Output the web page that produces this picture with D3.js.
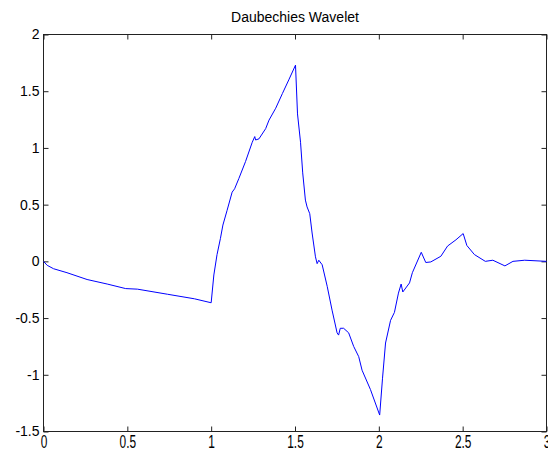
<!DOCTYPE html>
<html>
<head>
<meta charset="utf-8">
<script src="https://cdn.jsdelivr.net/npm/d3@7"></script>
<style>
  html, body { margin: 0; padding: 0; background: #fff; }
  svg { display: block; }
  .axis text { font-family: "Liberation Sans", Arial, sans-serif; font-size: 14px; fill: #000; }
  .axis path, .axis line { stroke: #222; }
</style>
</head>
<body>
<svg id="chart" width="548" height="452"></svg>
<script>
// --- Données ---
const title = "Daubechies Wavelet";
const xTicks = [0, 0.5, 1, 1.5, 2, 2.5, 3];
const yTicks = [-1.5, -1, -0.5, 0, 0.5, 1, 1.5, 2];
const xTickLabels = ["0", "0.5", "1", "1.5", "2", "2.5", "3"];
const yTickLabels = ["-1.5", "-1", "-0.5", "0", "0.5", "1", "1.5", "2"];

const psiX = [0, 0.022, 0.06, 0.14, 0.26, 0.38, 0.49, 0.56, 0.74, 0.90, 1.0,
    1.016, 1.035, 1.055, 1.07, 1.095, 1.125, 1.14, 1.165, 1.205, 1.245, 1.26, 1.265,
    1.285, 1.325, 1.345, 1.385, 1.425, 1.463, 1.503,
    1.515, 1.533, 1.546, 1.562, 1.572, 1.588, 1.602, 1.622, 1.632, 1.642, 1.662,
    1.692, 1.721, 1.751, 1.76, 1.77, 1.79, 1.82, 1.85, 1.88, 1.90, 1.95, 2.005,
    2.022, 2.04, 2.07, 2.093, 2.117, 2.133, 2.143, 2.183, 2.20, 2.253, 2.28, 2.31,
    2.37, 2.41, 2.46, 2.503, 2.525, 2.57, 2.635, 2.68, 2.752, 2.80, 2.87, 3.0];
const psiY = [0, -0.035, -0.065, -0.10, -0.16, -0.20, -0.24, -0.245, -0.29, -0.33, -0.365,
    -0.12, 0.06, 0.20, 0.32, 0.45, 0.61, 0.64, 0.73, 0.88, 1.05, 1.10, 1.07,
    1.08, 1.17, 1.245, 1.35, 1.48, 1.60, 1.73,
    1.30, 1.05, 0.78, 0.54, 0.48, 0.42, 0.25, 0.04, -0.02, 0.01, -0.03,
    -0.22, -0.43, -0.63, -0.65, -0.59, -0.59, -0.63, -0.75, -0.84, -0.96, -1.13, -1.355,
    -1.03, -0.72, -0.52, -0.45, -0.28, -0.20, -0.27, -0.19, -0.10, 0.08, -0.01, -0.005,
    0.045, 0.135, 0.19, 0.245, 0.14, 0.06, 0.0, 0.01, -0.04, 0.0, 0.01, 0.0];

// --- Mise en page ---
const svg = d3.select("#chart");
const mLeft = 43.5, mRight = 546.5, mTop = 34.5, mBottom = 431.5;
const tick = 5;

const x = d3.scaleLinear().domain([0, 3]).range([mLeft, mRight]);
const y = d3.scaleLinear().domain([-1.5, 2]).range([mBottom, mTop]);

// Cadre
svg.append("rect")
    .attr("x", mLeft).attr("y", mTop)
    .attr("width", mRight - mLeft).attr("height", mBottom - mTop)
    .attr("fill", "#fff").attr("stroke", "#222");

// Axe bas (graduations vers l'intérieur)
const gx = svg.append("g").attr("class", "axis")
    .attr("transform", `translate(0,${mBottom})`)
    .call(d3.axisBottom(x).tickValues(xTicks).tickSizeInner(-tick).tickSizeOuter(0)
        .tickFormat((d, i) => xTickLabels[i]));
// les étiquettes de l'axe x sont étirées verticalement dans l'original
gx.selectAll("text")
    .attr("dy", null)
    .attr("transform", "translate(0,3.5) scale(0.85,1.3)")
    .attr("y", 10);

// Axe haut (graduations seules)
svg.append("g").attr("class", "axis")
    .attr("transform", `translate(0,${mTop})`)
    .call(d3.axisTop(x).tickValues(xTicks).tickSizeInner(-tick).tickSizeOuter(0).tickFormat(""));

// Axe gauche
const gy = svg.append("g").attr("class", "axis")
    .attr("transform", `translate(${mLeft},0)`)
    .call(d3.axisLeft(y).tickValues(yTicks).tickSizeInner(-tick).tickSizeOuter(0)
        .tickFormat((d, i) => yTickLabels[i]));
gy.selectAll("text").attr("x", -4);

// Axe droit (graduations seules)
svg.append("g").attr("class", "axis")
    .attr("transform", `translate(${mRight},0)`)
    .call(d3.axisRight(y).tickValues(yTicks).tickSizeInner(-tick).tickSizeOuter(0).tickFormat(""));

svg.selectAll(".axis .domain").remove();

// Courbe
const line = d3.line()
    .x((d, i) => x(psiX[i]))
    .y(d => y(d));

svg.append("path")
    .datum(psiY)
    .attr("d", line)
    .attr("fill", "none")
    .attr("stroke", "#0000ff")
    .attr("stroke-width", 1)
    .attr("stroke-linejoin", "round");

// Titre
svg.append("text")
    .attr("x", (mLeft + mRight) / 2)
    .attr("y", 22)
    .attr("text-anchor", "middle")
    .style("font-family", "'Liberation Sans', Arial, sans-serif")
    .style("font-size", "14px")
    .text(title);
</script>
</body>
</html>
